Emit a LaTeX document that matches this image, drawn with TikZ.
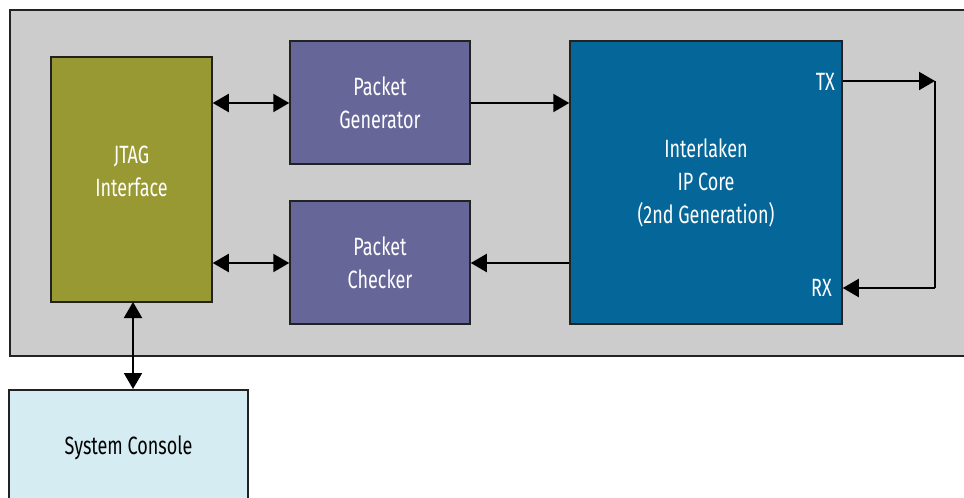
\documentclass[tikz,border=0pt]{standalone}
\usepackage{fontspec}
\setmainfont{Fira Sans}[FakeStretch=0.72]
\usetikzlibrary{arrows.meta}
\definecolor{bggray}{HTML}{CCCCCC}
\definecolor{jtagc}{HTML}{999933}
\definecolor{pktc}{HTML}{666699}
\definecolor{corec}{HTML}{056699}
\definecolor{consc}{HTML}{D5ECF3}
\definecolor{edgec}{HTML}{222222}
\begin{document}
\begin{tikzpicture}[x=1pt,y=-1pt,
  blk/.style={draw=edgec,line width=1.5pt,text=white,align=center,inner sep=0pt,
    font=\fontsize{25}{33}\selectfont},
  txt/.style={align=center,inner sep=0pt,font=\fontsize{25}{33}\selectfont},
  conn/.style={line width=2pt,-{Triangle[length=16pt,width=18pt]}},
  bconn/.style={line width=2pt,{Triangle[length=16pt,width=18pt]}-{Triangle[length=16pt,width=18pt]}},
  lbl/.style={text=white,font=\fontsize{25}{27}\selectfont,inner sep=0pt}]
\useasboundingbox (0,0) rectangle (964,498);
\path[fill=bggray,draw=edgec,line width=1.5pt] (10,10) rectangle (980,356);
\node[blk,fill=jtagc,minimum width=161pt,minimum height=245pt] (jtag) at (131.5,179.5) {};
\node[txt,text=white] (jtagtxt) at (131.5,171) {JTAG\\Interface};
\node[blk,fill=pktc,minimum width=180pt,minimum height=123pt] (gen) at (380,102.5) {Packet\\Generator};
\node[blk,fill=pktc,minimum width=180pt,minimum height=123pt] (chk) at (380,262.5) {Packet\\Checker};
\node[blk,fill=corec,minimum width=272pt,minimum height=283pt] (core) at (706,182.5) {Interlaken\\IP Core\\(2nd Generation)};
\node[blk,fill=consc,minimum width=239pt,minimum height=130pt] (cons) at (128.5,455) {};
\node[txt,text=black] (constxt) at (128.5,448) {System Console};
\node[lbl,anchor=east] (tx) at (835,82) {TX};
\node[lbl,anchor=east] (rx) at (832,288) {RX};
\coordinate (txend) at (935,81);
\coordinate (rxstart) at (935,288);
\coordinate (vtop) at (133,302);
\coordinate (vbot) at (133,389);
\draw[bconn] (jtag.east |- 0,103) -- (gen.west |- 0,103);
\draw[bconn] (jtag.east |- 0,263) -- (chk.west |- 0,263);
\draw[conn] (gen.east |- 0,103) -- (core.west |- 0,103);
\draw[conn] (core.west |- 0,263) -- (chk.east |- 0,263);
\draw[bconn] (vtop) -- (vbot);
\draw[conn] (core.east |- txend) -- (txend);
\draw[line width=2pt] (txend) -- (rxstart);
\draw[conn] (rxstart) -- (core.east |- rxstart);
\end{tikzpicture}
\end{document}
